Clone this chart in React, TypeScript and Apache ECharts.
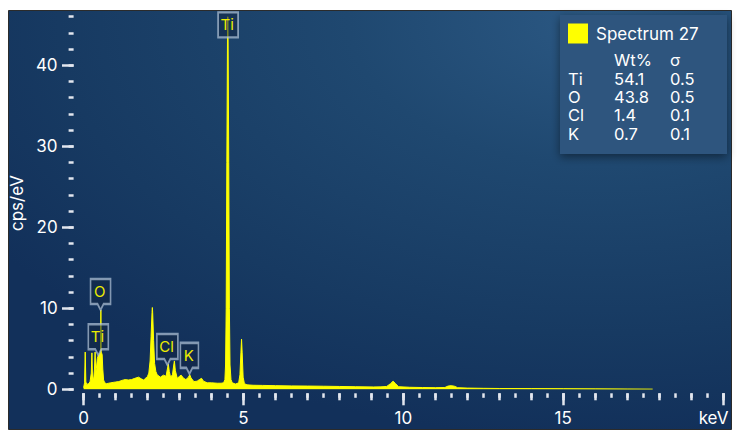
import React, { useEffect, useRef } from 'react';
import * as echarts from 'echarts';

// Spectrum (energy in keV, intensity in cps/eV)
const energyKeV = [
  0.0, 0.03, 0.05, 0.07, 0.1, 0.15, 0.2, 0.24, 0.26, 0.28, 0.32, 0.34, 0.36, 0.38, 0.4, 0.43,
  0.46, 0.5, 0.53, 0.54, 0.55, 0.58, 0.6, 0.625, 0.66, 0.72, 0.78, 0.85, 0.92, 1.0, 1.1, 1.2,
  1.3, 1.4, 1.5, 1.6, 1.72, 1.8, 1.88, 1.95, 2.0, 2.04, 2.08, 2.11, 2.14, 2.15, 2.16, 2.19,
  2.22, 2.26, 2.3, 2.4, 2.5, 2.58, 2.62, 2.65, 2.68, 2.72, 2.78, 2.82, 2.84, 2.87, 2.93, 3.0,
  3.05, 3.13, 3.2, 3.28, 3.32, 3.36, 3.45, 3.55, 3.62, 3.69, 3.75, 3.87, 4.0, 4.18, 4.3, 4.38,
  4.42, 4.44, 4.46, 4.48, 4.5, 4.51, 4.52, 4.54, 4.56, 4.58, 4.61, 4.65, 4.75, 4.85, 4.89, 4.92,
  4.94, 4.96, 4.99, 5.03, 5.11, 5.3, 5.6, 6.0, 6.5, 7.0, 7.5, 8.0, 8.5, 9.07, 9.3, 9.48,
  9.6, 9.68, 9.76, 9.85, 10.2, 10.6, 11.0, 11.3, 11.4, 11.5, 11.6, 11.7, 12.0, 12.5, 13.0, 14.0,
  15.0, 16.0, 17.0, 17.8
];
const countsCps = [
  0.2, 0.8, 4.6, 0.9, 0.6, 0.7, 0.9, 2.0, 4.5, 1.2, 1.5, 2.5, 4.6, 2.0, 2.6, 3.8,
  4.2, 4.4, 4.6, 9.8, 4.6, 4.3, 2.5, 1.15, 0.8, 0.7, 0.75, 0.8, 0.85, 0.9, 0.95, 1.1,
  1.2, 1.15, 1.2, 1.35, 1.5, 1.3, 1.15, 1.4, 1.6, 2.0, 3.5, 6.5, 9.5, 10.1, 9.5, 6.0,
  3.2, 2.2, 1.8, 1.5, 1.75, 1.6, 2.5, 3.1, 2.2, 1.5, 1.8, 3.0, 3.5, 2.3, 1.35, 1.6,
  1.75, 1.35, 1.2, 1.5, 1.8, 1.4, 0.95, 1.0, 1.2, 1.35, 1.0, 0.8, 0.8, 0.75, 0.75, 0.8,
  1.2, 3.0, 10.0, 28.0, 43.0, 46.0, 43.0, 28.0, 10.0, 3.0, 1.2, 0.8, 0.65, 0.8, 1.8, 4.5,
  6.2, 4.5, 1.5, 0.7, 0.55, 0.5, 0.48, 0.45, 0.42, 0.4, 0.38, 0.35, 0.32, 0.29, 0.3, 0.35,
  0.7, 1.0, 0.7, 0.32, 0.25, 0.22, 0.2, 0.22, 0.4, 0.45, 0.38, 0.2, 0.15, 0.12, 0.1, 0.09,
  0.08, 0.06, 0.04, 0.02
];

const xRange = [0, 20];
const xMajorTickValues = [0, 5, 10, 15, 20];
const xIntegerTickValues = [0, 1, 2, 3, 4, 5, 6, 7, 8, 9, 10, 11, 12, 13, 14, 15, 16, 17, 18, 19, 20];
const yRange = [0, 46];
const yMajorTickValues = [0, 10, 20, 30, 40];
const xUnitLabel = 'keV';
const yAxisName = 'cps/eV';

// Element labels on peaks
const peakLabels = ['Ti', 'O', 'Ti', 'Cl', 'K'];
const peakEnergies = [4.52, 0.53, 0.46, 2.62, 3.31];
const peakHeights = [45.0, 9.8, 4.2, 3.0, 1.9];
const peakHasPointer = [false, true, true, true, true];

// Legend table
const legendTitle = 'Spectrum 27';
const tableHeader = ['Wt%', 'σ'];
const tableElements = ['Ti', 'O', 'Cl', 'K'];
const tableWt = ['54.1', '43.8', '1.4', '0.7'];
const tableSigma = ['0.5', '0.5', '0.1', '0.1'];

export default function App() {
  const ref = useRef<HTMLDivElement>(null);

  useEffect(() => {
    const chart = echarts.init(ref.current!, null, { renderer: 'svg' });
    const font = "Inter, 'Liberation Sans', Arial, sans-serif";
    const tickColor = '#e2e6ee';
    const labelColor = '#ffffff';

    const baseX = {
      type: 'value',
      min: xRange[0],
      max: xRange[1],
      position: 'bottom',
      offset: 4,
      axisLine: { show: false, onZero: false },
      splitLine: { show: false },
    };
    const baseY = {
      type: 'value',
      min: yRange[0],
      max: yRange[1],
      position: 'left',
      offset: 10,
      axisLine: { show: false, onZero: false },
      splitLine: { show: false },
    };

    const markData = peakLabels.map((name, i) => {
      const w = name === 'K' ? 18 : name === 'Cl' ? 21 : 20;
      const h = 25;
      const ptr = 6;
      const sym = peakHasPointer[i]
        ? `path://M0,0H${w}V${h}H${w / 2 + 3}L${w / 2},${h + ptr}L${w / 2 - 3},${h}H0Z`
        : `path://M0,0H${w}V${h}H0Z`;
      const totalH = peakHasPointer[i] ? h + ptr : h;
      return {
        name,
        coord: [peakEnergies[i], peakHeights[i]],
        symbol: sym,
        symbolSize: [w, totalH],
        symbolKeepAspect: false,
        symbolOffset: peakHasPointer[i] ? [0, '-50%'] : [0, 0],
        label: {
          show: true,
          formatter: name,
          position: [w / 2, h / 2 + 1],
          align: 'center',
          verticalAlign: 'middle',
          color: '#eded00',
          fontSize: 15,
          fontFamily: font,
        },
      };
    });

    const legendGraphics: any[] = [
      {
        type: 'rect',
        z: 50,
        shape: { x: 560, y: 15, width: 167, height: 139 },
        style: {
          fill: '#2d557e',
          shadowBlur: 10,
          shadowColor: 'rgba(0,0,0,0.45)',
          shadowOffsetX: 0,
          shadowOffsetY: 3,
        },
      },
      {
        type: 'rect',
        z: 51,
        shape: { x: 568, y: 23.5, width: 20, height: 20 },
        style: { fill: '#ffff00' },
      },
      {
        type: 'text',
        z: 51,
        x: 596,
        y: 33.5,
        style: { text: legendTitle, fill: labelColor, font: `17px ${font}`, verticalAlign: 'middle' },
      },
      {
        type: 'text',
        z: 51,
        x: 614,
        y: 60,
        style: { text: tableHeader[0], fill: labelColor, font: `16.5px ${font}`, verticalAlign: 'middle' },
      },
      {
        type: 'text',
        z: 51,
        x: 670,
        y: 60,
        style: { text: tableHeader[1], fill: labelColor, font: `16.5px ${font}`, verticalAlign: 'middle' },
      },
    ];
    tableElements.forEach((el, i) => {
      const y = 79 + i * 18.2;
      [
        [568, el],
        [614, tableWt[i]],
        [670, tableSigma[i]],
      ].forEach(([x, t]) => {
        legendGraphics.push({
          type: 'text',
          z: 51,
          x,
          y,
          style: { text: t, fill: labelColor, font: `16.5px ${font}`, verticalAlign: 'middle' },
        });
      });
    });

    const option: any = {
      animation: false,
      backgroundColor: '#ffffff',
      textStyle: { fontFamily: font },
      grid: { left: 83, right: 17, top: 16.7, bottom: 51.7, containLabel: false },
      graphic: [
        {
          type: 'rect',
          z: -10,
          shape: { x: 8.5, y: 10.5, width: 723, height: 419 },
          style: {
            fill: new echarts.graphic.RadialGradient(0.82, 0.02, 1.0, [
              { offset: 0, color: '#2b5883' },
              { offset: 0.35, color: '#1f4870' },
              { offset: 0.75, color: '#173a62' },
              { offset: 1, color: '#12305a' },
            ]),
            stroke: '#2b2b2b',
            lineWidth: 1,
          },
        },
        ...legendGraphics,
      ],
      xAxis: [
        {
          ...baseX,
          interval: 0.5,
          axisTick: { show: true, length: 4.5, lineStyle: { color: tickColor, width: 2.5 } },
          axisLabel: { show: false },
        },
        {
          ...baseX,
          interval: 1,
          axisTick: {
            show: true,
            length: 7,
            customValues: xIntegerTickValues,
            lineStyle: { color: tickColor, width: 2.5 },
          },
          axisLabel: { show: false },
        },
        {
          ...baseX,
          interval: 5,
          axisTick: {
            show: true,
            length: 12,
            customValues: xMajorTickValues,
            lineStyle: { color: tickColor, width: 2.5 },
          },
          axisLabel: {
            show: true,
            customValues: xMajorTickValues,
            margin: 16,
            color: labelColor,
            fontSize: 17,
            fontFamily: font,
            formatter: (v: number) => (v === xMajorTickValues[xMajorTickValues.length - 1] ? `{u|${xUnitLabel}}` : String(v)),
            rich: {
              u: { color: labelColor, fontSize: 17, fontFamily: font, padding: [0, 19, 0, 0] },
            },
          },
        },
      ],
      yAxis: [
        {
          ...baseY,
          interval: 2,
          axisTick: { show: true, length: 5, lineStyle: { color: tickColor, width: 2.5 } },
          axisLabel: { show: false },
        },
        {
          ...baseY,
          interval: 10,
          name: yAxisName,
          nameLocation: 'middle',
          nameGap: 48,
          nameTextStyle: { color: labelColor, fontSize: 17, fontFamily: font },
          axisTick: {
            show: true,
            length: 11.6,
            customValues: yMajorTickValues,
            lineStyle: { color: tickColor, width: 2.5 },
          },
          axisLabel: {
            show: true,
            customValues: yMajorTickValues,
            margin: 16,
            color: labelColor,
            fontSize: 17,
            fontFamily: font,
          },
        },
      ],
      series: [
        {
          type: 'line',
          xAxisIndex: 0,
          yAxisIndex: 0,
          data: energyKeV.map((e, i) => [e, countsCps[i]]),
          showSymbol: false,
          symbol: 'none',
          lineStyle: { color: '#ffff00', width: 1 },
          areaStyle: { color: '#ffff00', opacity: 1 },
          itemStyle: { color: '#ffff00' },
          markPoint: {
            silent: true,
            itemStyle: {
              color: 'rgba(18,38,68,0.55)',
              borderColor: 'rgba(180,198,218,0.7)',
              borderWidth: 2,
            },
            data: markData,
          },
        },
      ],
    };

    chart.setOption(option);
    return () => chart.dispose();
  }, []);

  return (
    <div
      ref={ref}
      style={{ position: 'fixed', left: 0, top: 0, width: 740, height: 441, background: '#ffffff' }}
    />
  );
}
